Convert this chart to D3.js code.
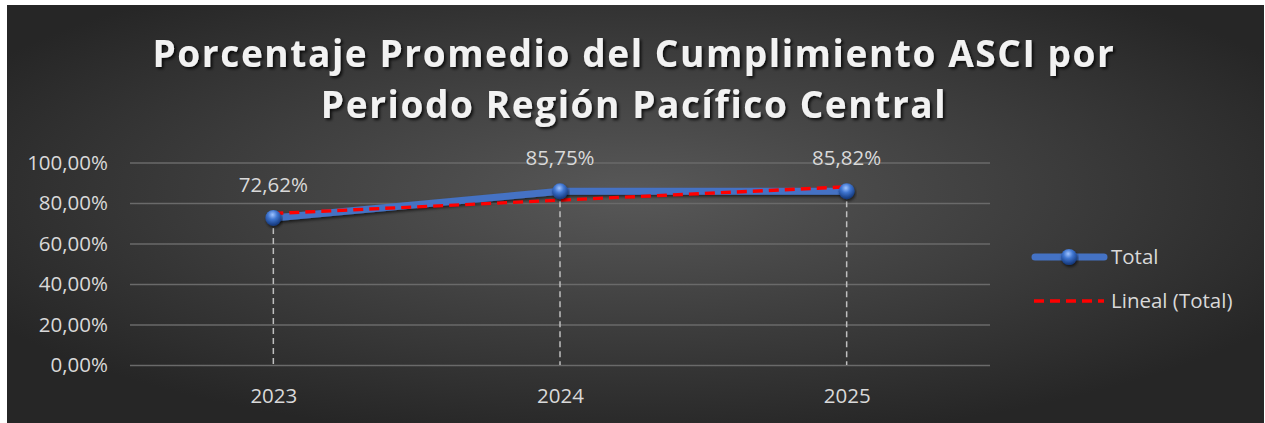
<!DOCTYPE html>
<html>
<head>
<meta charset="utf-8">
<script src="https://cdn.jsdelivr.net/npm/d3@7"></script>
<style>
  html,body{margin:0;padding:0;background:#fff;}
  svg{display:block;}
  text{font-family:"Open Sans","Noto Sans",sans-serif;}
</style>
</head>
<body>
<div id="chart"></div>
<script>
const categories = ["2023", "2024", "2025"];
const totalValues = [72.62, 85.75, 85.82];
const dataLabels = ["72,62%", "85,75%", "85,82%"];
const yTicks = [0, 20, 40, 60, 80, 100];
const yTickLabels = ["0,00%", "20,00%", "40,00%", "60,00%", "80,00%", "100,00%"];
const titleLines = ["Porcentaje Promedio del Cumplimiento ASCI por", "Periodo Región Pacífico Central"];
const legendLabels = ["Total", "Lineal (Total)"];

// least squares linear trend of the Total series
const xs = totalValues.map((d, i) => i + 1);
const mx = d3.mean(xs), my = d3.mean(totalValues);
const slope = d3.sum(xs.map((v, i) => (v - mx) * (totalValues[i] - my))) / d3.sum(xs.map(v => (v - mx) ** 2));
const trendValues = xs.map(v => my + slope * (v - mx));

const W = 1265, H = 423;
const FS = 20.5;
const svg = d3.select("#chart").append("svg").attr("width", W).attr("height", H);
const defs = svg.append("defs");

const bg = defs.append("radialGradient").attr("id", "bg")
  .attr("cx", "50%").attr("cy", "45%").attr("r", "60%");
bg.append("stop").attr("offset", "0%").attr("stop-color", "#585858");
bg.append("stop").attr("offset", "100%").attr("stop-color", "#262626");

const ball = defs.append("radialGradient").attr("id", "ball")
  .attr("cx", "45%").attr("cy", "30%").attr("r", "65%");
ball.append("stop").attr("offset", "0%").attr("stop-color", "#9fc3ff");
ball.append("stop").attr("offset", "45%").attr("stop-color", "#3f75d0");
ball.append("stop").attr("offset", "100%").attr("stop-color", "#173c80");

const sh = defs.append("filter").attr("id", "tshadow").attr("x", "-10%").attr("y", "-20%").attr("width", "120%").attr("height", "150%");
sh.append("feDropShadow").attr("dx", 2).attr("dy", 2).attr("stdDeviation", 1.5).attr("flood-color", "#000").attr("flood-opacity", 0.8);

const lsh = defs.append("filter").attr("id", "lshadow").attr("x", "-10%").attr("y", "-50%").attr("width", "120%").attr("height", "200%");
lsh.append("feDropShadow").attr("dx", 1).attr("dy", 2).attr("stdDeviation", 1.5).attr("flood-color", "#000").attr("flood-opacity", 0.6);

svg.append("rect").attr("x", 7).attr("y", 5).attr("width", 1257).attr("height", 418).attr("fill", "url(#bg)");

// title
const title = svg.append("g").attr("filter", "url(#tshadow)");
titleLines.forEach((t, i) => {
  title.append("text")
    .attr("x", 634).attr("y", 67 + i * 51)
    .attr("text-anchor", "middle")
    .attr("font-size", 37).attr("font-weight", "bold")
    .attr("letter-spacing", 1.6)
    .attr("fill", "#f2f2f2")
    .text(t);
});

const pLeft = 130, pRight = 990, pTop = 162.5, pBottom = 365;
const x = d3.scalePoint().domain(categories).range([pLeft, pRight]).padding(0.5);
const y = d3.scaleLinear().domain([0, 100]).range([pBottom, pTop]);

// gridlines
const yAxis = d3.axisLeft(y).tickValues(yTicks).tickSize(-(pRight - pLeft))
  .tickFormat((d, i) => yTickLabels[i]);
const gy = svg.append("g").attr("transform", `translate(${pLeft},0)`).call(yAxis);
gy.select(".domain").remove();
gy.selectAll(".tick line").attr("stroke", "#6a6a6a").attr("stroke-width", 1.3);
gy.selectAll(".tick text").attr("x", -22).attr("fill", "#d9d9d9").attr("font-size", FS);

// x axis labels
const xAxis = d3.axisBottom(x).tickSize(0);
const gx = svg.append("g").attr("transform", `translate(0,${pBottom})`).call(xAxis);
gx.select(".domain").remove();
gx.selectAll(".tick text").attr("dy", 0).attr("y", 38).attr("fill", "#d9d9d9").attr("font-size", FS);

// drop lines
svg.append("g").selectAll("line").data(categories).join("line")
  .attr("x1", d => x(d)).attr("x2", d => x(d))
  .attr("y1", (d, i) => y(totalValues[i])).attr("y2", pBottom)
  .attr("stroke", "#bfbfbf").attr("stroke-width", 1.5).attr("stroke-dasharray", "6,4");

// total line
const line = d3.line().x((d, i) => x(categories[i])).y(d => y(d));
svg.append("path").datum(totalValues).attr("d", line)
  .attr("fill", "none").attr("stroke", "#4472c4").attr("stroke-width", 7)
  .attr("stroke-linejoin", "round").attr("filter", "url(#lshadow)");

// trend line
svg.append("path").datum(trendValues).attr("d", line)
  .attr("fill", "none").attr("stroke", "#ff0000").attr("stroke-width", 3.4)
  .attr("stroke-dasharray", "10,6");

// markers
svg.append("g").selectAll("circle").data(totalValues).join("circle")
  .attr("cx", (d, i) => x(categories[i])).attr("cy", d => y(d)).attr("r", 8)
  .attr("fill", "url(#ball)").attr("filter", "url(#lshadow)");

// data labels
svg.append("g").selectAll("text").data(totalValues).join("text")
  .attr("x", (d, i) => x(categories[i])).attr("y", d => y(d) - 26)
  .attr("text-anchor", "middle").attr("fill", "#d9d9d9").attr("font-size", FS)
  .text((d, i) => dataLabels[i]);

// legend
const lg = svg.append("g");
lg.append("line").attr("x1", 1035).attr("x2", 1104).attr("y1", 257).attr("y2", 257)
  .attr("stroke", "#4472c4").attr("stroke-width", 7).attr("stroke-linecap", "round");
lg.append("circle").attr("cx", 1069).attr("cy", 257).attr("r", 8).attr("fill", "url(#ball)").attr("filter", "url(#lshadow)");
lg.append("text").attr("x", 1111).attr("y", 264).attr("fill", "#d9d9d9").attr("font-size", FS).text(legendLabels[0]);
lg.append("line").attr("x1", 1034).attr("x2", 1104).attr("y1", 301).attr("y2", 301)
  .attr("stroke", "#ff0000").attr("stroke-width", 3.4).attr("stroke-dasharray", "10,6");
lg.append("text").attr("x", 1111).attr("y", 308).attr("fill", "#d9d9d9").attr("font-size", FS).text(legendLabels[1]);
</script>
</body>
</html>
